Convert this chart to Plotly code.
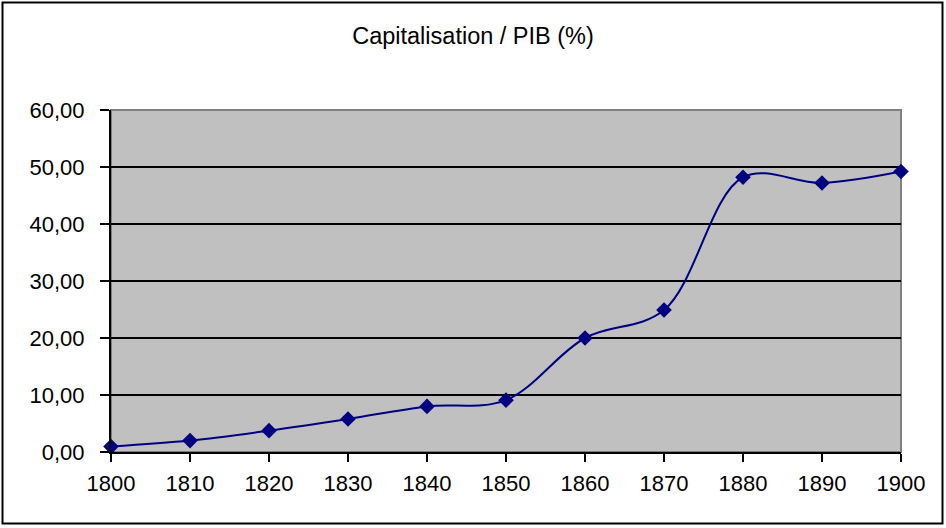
import plotly.graph_objects as go

years = [1800, 1810, 1820, 1830, 1840, 1850, 1860, 1870, 1880, 1890, 1900]
cap_pib = [0.95, 2.0, 3.75, 5.8, 8.0, 9.1, 20.0, 24.9, 48.2, 47.2, 49.2]
title_text = "Capitalisation / PIB (%)"
x_ticks = list(range(1800, 1901, 10))
y_ticks = [0, 10, 20, 30, 40, 50, 60]

W, H = 946, 528
L, R, T, B = 111, 45, 110, 76

fig = go.Figure()
fig.add_trace(go.Scatter(
    x=years, y=cap_pib, mode="lines+markers",
    line=dict(color="#000080", width=2, shape="spline", smoothing=1.0),
    marker=dict(symbol="diamond", size=12, color="#000080"),
    cliponaxis=False, showlegend=False,
))

pw = W - L - R
ph = H - T - B
# outer chart frame (pixel positions converted to paper fractions)
fig.add_shape(type="rect", xref="paper", yref="paper",
              x0=(2.5 - L) / pw, x1=(942.5 - L) / pw,
              y0=((H - B) - 523.5) / ph, y1=((H - B) - 2.5) / ph,
              line=dict(color="black", width=2), layer="below")
# plot area border (grey)
fig.add_shape(type="rect", xref="paper", yref="paper", x0=0, x1=1, y0=0, y1=1,
              line=dict(color="#808080", width=2), layer="below")

font = "Liberation Sans, Arial, sans-serif"
fig.update_layout(
    width=W, height=H,
    margin=dict(l=L, r=R, t=T, b=B),
    paper_bgcolor="white", plot_bgcolor="#C0C0C0",
    separators=", ",
    font=dict(family=font, size=22, color="black"),
    title=dict(text=title_text, x=0.5, xanchor="center", y=1 - 36 / H, yanchor="middle",
               font=dict(family=font, size=23.5, color="black")),
    xaxis=dict(range=[1800, 1900], tickvals=x_ticks, showgrid=False, zeroline=False,
               showline=True, linecolor="black", linewidth=2,
               ticks="outside", ticklen=8, tickcolor="black", tickwidth=1.5,
               tickfont=dict(size=22), ticklabelstandoff=3),
    yaxis=dict(range=[0, 60], tickvals=y_ticks, tickformat=".2f",
               showgrid=True, gridcolor="black", gridwidth=1.5, zeroline=False,
               showline=True, linecolor="black", linewidth=2,
               ticks="outside", ticklen=9, tickcolor="black", tickwidth=1.5,
               tickfont=dict(size=22), ticklabelstandoff=11),
)

fig.write_html("out.html", config={"displayModeBar": False},
               post_script="document.body.style.margin='0';document.body.style.overflow='hidden';")
